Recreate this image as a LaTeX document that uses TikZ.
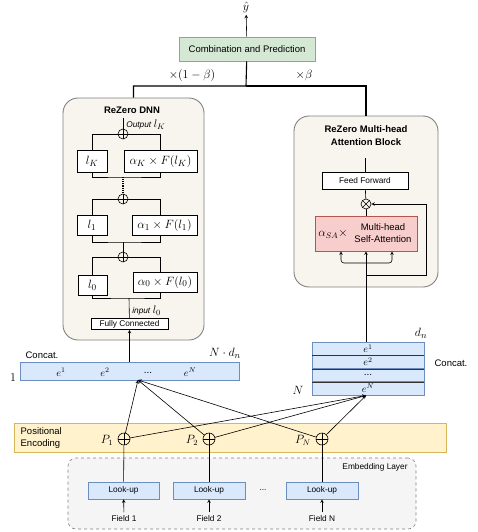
\documentclass[tikz,border=0pt]{standalone}
\usepackage{fontspec}
\setmainfont{Liberation Sans}
\usepackage{amsmath}
\usetikzlibrary{arrows,positioning}

\definecolor{predfill}{HTML}{D5E8D4}
\definecolor{predline}{HTML}{82B366}
\definecolor{embfill}{HTML}{DAE8FC}
\definecolor{embline}{HTML}{6C8EBF}
\definecolor{posfill}{HTML}{FFF2CC}
\definecolor{posline}{HTML}{D6B656}
\definecolor{safill}{HTML}{F8CECC}
\definecolor{saline}{HTML}{B85450}
\definecolor{blockfill}{HTML}{F7F5EE}
\definecolor{layerfill}{HTML}{F5F5F5}

\tikzset{
  oplus/.style={circle, draw, inner sep=0pt, minimum size=#1,
    path picture={\draw (path picture bounding box.north) -- (path picture bounding box.south)
      (path picture bounding box.west) -- (path picture bounding box.east);}},
  otimes/.style={circle, draw, inner sep=0pt, minimum size=#1,
    path picture={\draw (path picture bounding box.north west) -- (path picture bounding box.south east)
      (path picture bounding box.south west) -- (path picture bounding box.north east);}},
  smalltxt/.style={font=\fontsize{8.3}{10}\selectfont},
  bigmath/.style={font=\fontsize{13}{15}\selectfont},
  midmath/.style={font=\fontsize{11.5}{13}\selectfont},
  vecmath/.style={font=\fontsize{10}{12}\selectfont},
  titletxt/.style={font=\fontsize{9.5}{13}\selectfont\bfseries, align=center},
  mathbox/.style={draw, fill=white, inner sep=0pt, bigmath},
  embbox/.style={draw=embline, fill=embfill, inner sep=0pt},
  bigblock/.style={draw=gray, fill=blockfill, rounded corners=15pt, line width=0.9pt},
}

\begin{document}
\begin{tikzpicture}[x=1pt, y=-1pt, font=\fontsize{9.5}{11}\selectfont, line width=0.6pt]

    \useasboundingbox (0,0) rectangle (478,532);

    % prediction on top
    \node[draw=predline, fill=predfill, minimum width=136pt, minimum height=24pt] (comb) at (247,49) {Combination and Prediction};
    \node[bigmath, inner sep=1pt] (yhat) at (246,8) {$\hat{y}$};
    \draw[-stealth] (comb) -- (yhat);

    % the two blocks
    \node[bigblock, minimum width=141pt, minimum height=242pt] (dnn) at (133.5,219) {};
    \node[bigblock, minimum width=144pt, minimum height=171pt] (att) at (366,201.5) {};
    \coordinate (split) at (246,86);
    \draw[line width=1.1pt] (comb) -- (split) -| (dnn);
    \draw[line width=1.1pt] (split) -| (att);
    \node[midmath] (wdnn) at (192,76) {$\times(1-\beta)$};
    \node[midmath] (watt) at (304,76) {$\times\beta$};

    \node[titletxt] (dnntitle) at (132,110) {ReZero DNN};
    \node[titletxt] (atttitle) at (366,135.5) {ReZero Multi-head\\Attention Block};

    % ReZero DNN, layer K
    \node[oplus=10pt] (plusK) at (123,134) {};
    \node[mathbox, minimum width=30pt, minimum height=22pt] (lK) at (92,161) {$l_K$};
    \node[mathbox, minimum width=73pt, minimum height=22pt] (aK) at (160.5,161) {$\alpha_K \times F(l_K)$};
    \draw (lK) |- (plusK);
    \draw (aK) |- (plusK);
    \draw (plusK.north) -- ++(0,-11);
    \node[smalltxt, anchor=west, inner sep=1pt] (outlab) at (125,125) {\textit{Output} \fontsize{11}{13}\selectfont$l_K$};
    \coordinate (jK) at (123,177);
    \draw (lK) |- (jK) -| (aK);

    % layer 1
    \node[oplus=10pt] (plus1) at (123,199) {};
    \draw[densely dotted, line width=1.1pt] (jK) -- (plus1);
    \node[mathbox, minimum width=30pt, minimum height=20pt] (l1) at (92,225.5) {$l_1$};
    \node[mathbox, minimum width=65pt, minimum height=20pt] (a1) at (164.5,225.5) {$\alpha_1 \times F(l_1)$};
    \draw (l1) |- (plus1);
    \draw (a1.north -| aK.north) |- (plus1);
    \coordinate (j1) at (123,242);
    \draw (l1) |- (j1) -| (a1.south -| aK.south);

    % layer 0
    \node[oplus=10pt] (plus0) at (123,257) {};
    \draw (j1) -- (plus0);
    \node[mathbox, minimum width=29pt, minimum height=20pt] (l0) at (92.5,285) {$l_0$};
    \node[mathbox, minimum width=64pt, minimum height=20pt] (a0) at (165,282) {$\alpha_0 \times F(l_0)$};
    \draw (l0) |- (plus0);
    \draw (a0.north -| aK.north) |- (plus0);
    \coordinate (j0) at (129,298);
    \draw (l0) |- (j0) -| (a0.south -| aK.south);
    \node[smalltxt, draw, fill=white, inner sep=0pt, minimum width=77pt, minimum height=11pt] (fc) at (129.5,324) {Fully Connected};
    \draw (fc) -- (j0);
    \node[smalltxt, anchor=west, inner sep=1pt] (inlab) at (131,311) {\textit{input} \fontsize{11}{13}\selectfont$l_0$};

    % flat concatenation
    \node[embbox, minimum width=219pt, minimum height=18pt] (catL) at (129.5,371) {};
    \node[vecmath] (eL1) at (61,372) {$e^1$};
    \node[vecmath] (eL2) at (105,372) {$e^2$};
    \node[vecmath] (eL3) at (148,373) {...};
    \node[vecmath] (eLN) at (190,372) {$e^N$};
    \node[anchor=west] (catLlab) at (22,355) {Concat.};
    \node[midmath] (oneL) at (13,378) {$1$};
    \node[bigmath] (dimL) at (225,353) {$N \cdot d_n$};
    \draw[-stealth] (catL.north -| fc) -- (fc);

    % stacked concatenation
    \node[embbox, vecmath, minimum width=112pt, minimum height=13.25pt] (r1) at (368,348.6) {$e^1$};
    \node[embbox, vecmath, minimum width=112pt, minimum height=13.25pt] (r2) at (368,361.9) {$e^2$};
    \node[embbox, vecmath, minimum width=112pt, minimum height=13.25pt] (r3) at (368,375.1) {...};
    \node[embbox, vecmath, minimum width=112pt, minimum height=13.25pt] (r4) at (368,388.4) {$e^N$};
    \draw[black!80] (r1.south west) -- (r1.south east);
    \draw[black!80] (r2.south west) -- (r2.south east);
    \draw[black!80] (r3.south west) -- (r3.south east);
    \node[bigmath] (dimR) at (421,333) {$d_n$};
    \node[anchor=west] (catRlab) at (431,363) {Concat.};
    \node[bigmath] (nR) at (298,390) {$N$};

    % multi-head attention
    \node[draw=saline, fill=safill, minimum width=102pt, minimum height=35pt] (sa) at (366,233.5) {};
    \node[midmath] (salpha) at (333,234) {$\alpha_{SA}\times$};
    \node[align=center, font=\fontsize{9.5}{11.5}\selectfont] (satext) at (383,233) {Multi-head\\Self-Attention};
    \node[otimes=10pt] (mul) at (366,204) {};
    \node[smalltxt, draw, fill=white, minimum width=86pt, minimum height=17pt] (ff) at (365,180.5) {Feed Forward};
    \draw (sa) -- (mul);
    \draw (mul) -- (ff);
    \draw (ff.north) -- ++(0,-14);
    \draw[-stealth] (r1.north -| sa.south) -- (sa.south);
    \coordinate (fork) at (366,263);
    \draw[-stealth, rounded corners=3pt] (fork) -| ([xshift=-25pt]sa.south);
    \draw[-stealth, rounded corners=3pt] (fork) -| ([xshift=26pt]sa.south);
    \coordinate (res) at (426,275);
    \draw[-stealth] (res -| sa.south) -- (res) |- (mul);

    % positional encoding
    \node[draw=posline, fill=posfill, minimum width=432pt, minimum height=29pt] (pos) at (230,437.5) {};
    \node[anchor=west, align=left, font=\fontsize{9.5}{12}\selectfont] (poslab) at (17,438) {Positional\\Encoding};
    \node[oplus=12pt] (pe1) at (124,439) {};
    \node[oplus=12pt] (pe2) at (209,439) {};
    \node[oplus=12pt] (peN) at (322,439) {};
    \node[midmath] (p1) at (107,440) {$P_1$};
    \node[midmath] (p2) at (192,440) {$P_2$};
    \node[midmath] (pN) at (303,440) {$P_N$};

    % embedding layer
    \node[draw=gray, dashed, fill=layerfill, rounded corners=8pt, minimum width=348pt, minimum height=71pt] (emb) at (242,493.5) {};
    \node[smalltxt] (emblab) at (375,467) {Embedding Layer};
    \node[embbox, smalltxt, minimum width=71pt, minimum height=17pt] (lu1) at (123.5,490.5) {Look-up};
    \node[embbox, smalltxt, minimum width=72pt, minimum height=17pt] (lu2) at (209,490.5) {Look-up};
    \node[embbox, smalltxt, minimum width=72pt, minimum height=17pt] (luN) at (322,490.5) {Look-up};
    \node[smalltxt] (ludots) at (263,490) {...};
    \node[smalltxt] (f1) at (124,519) {Field 1};
    \node[smalltxt] (f2) at (209,519) {Field 2};
    \node[smalltxt] (fN) at (322,519) {Field N};
    \draw[-stealth] (f1) -- (lu1);
    \draw[-stealth] (f2) -- (lu2);
    \draw[-stealth] (fN) -- (luN);
    \draw (lu1) -- (pe1);
    \draw (lu2) -- (pe2);
    \draw (luN) -- (peN);

    % into both concatenations
    \coordinate (inL) at (138,380);
    \coordinate (inR) at (366,395.5);
    \draw[-stealth] (pe1) -- (inL);
    \draw[-stealth] (pe2) -- (inL);
    \draw[-stealth] (peN) -- (inL);
    \draw[-stealth] (pe1) -- (inR);
    \draw[-stealth] (pe2) -- (inR);
    \draw[-stealth] (peN) -- (inR);

\end{tikzpicture}
\end{document}
